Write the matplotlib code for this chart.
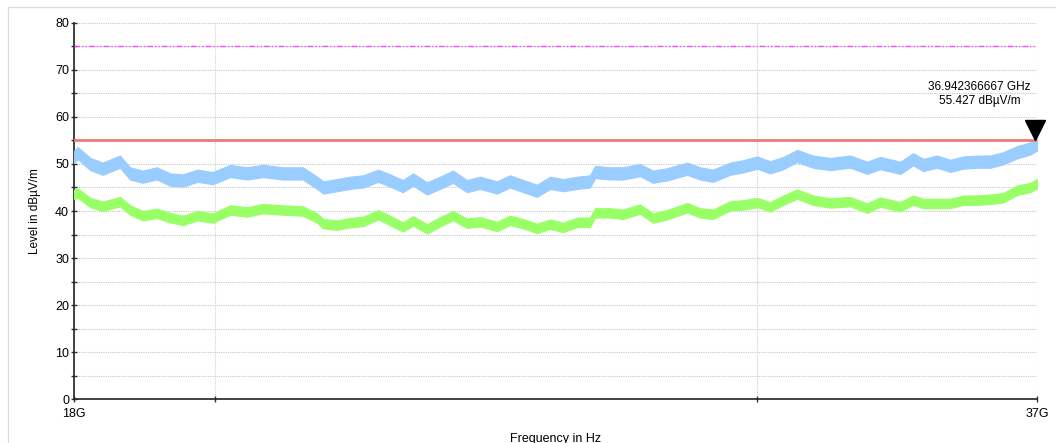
import matplotlib
matplotlib.use("Agg")
import matplotlib.pyplot as plt
from matplotlib.ticker import MultipleLocator, NullLocator
from matplotlib.patches import Rectangle
from matplotlib.transforms import offset_copy
import numpy as np

plt.rcParams['font.family'] = ['Liberation Sans', 'DejaVu Sans']

# frequenze (GHz) dei punti
freq_ghz = [18.00, 18.05, 18.22, 18.39, 18.63, 18.77, 18.95, 19.15, 19.34, 19.53,
            19.74, 19.97, 20.23, 20.49, 20.73, 21.05, 21.36, 21.59, 21.69, 21.91,
            22.13, 22.35, 22.60, 22.80, 23.02, 23.20, 23.44, 23.67, 23.90, 24.15,
            24.39, 24.70, 24.94, 25.19, 25.45, 25.70, 25.95, 26.23, 26.48, 26.58,
            26.88, 27.14, 27.49, 27.76, 28.05, 28.48, 28.75, 29.03, 29.41, 29.69,
            30.01, 30.30, 30.60, 30.92, 31.29, 31.69, 32.17, 32.58, 32.90, 33.40,
            33.72, 33.98, 34.33, 34.67, 35.01, 35.38, 35.72, 36.07, 36.45, 36.81,
            37.00]

# traccia blu (livello medio in dBuV/m)
blue_level = [51.5, 52.3, 50.0, 49.0, 50.5, 48.0, 47.3, 48.0, 46.7, 46.5,
              47.5, 47.0, 48.5, 48.0, 48.5, 48.0, 48.0, 46.0, 45.0, 45.5,
              46.0, 46.3, 47.5, 46.5, 45.3, 46.7, 44.8, 46.0, 47.3, 45.3,
              46.0, 45.0, 46.3, 45.3, 44.3, 46.0, 45.5, 46.0, 46.3, 48.3,
              48.0, 48.0, 48.7, 47.3, 47.8, 49.0, 48.0, 47.5, 49.0, 49.5,
              50.3, 49.3, 50.2, 51.7, 50.5, 50.0, 50.5, 49.2, 50.2, 49.2,
              51.0, 49.8, 50.5, 49.6, 50.3, 50.5, 50.5, 51.2, 52.5, 53.3,
              54.2]

# traccia verde
green_level = [43.5, 43.8, 41.8, 41.0, 42.0, 40.2, 39.0, 39.5, 38.6, 38.0,
               39.0, 38.5, 40.2, 39.8, 40.5, 40.2, 40.0, 38.5, 37.3, 37.0,
               37.5, 37.8, 39.2, 38.0, 36.6, 37.9, 36.2, 37.7, 39.0, 37.4,
               37.7, 36.7, 38.0, 37.3, 36.3, 37.2, 36.5, 37.6, 37.6, 39.6,
               39.6, 39.3, 40.4, 38.5, 39.2, 40.7, 39.6, 39.3, 41.1, 41.3,
               41.8, 40.9, 42.3, 43.6, 42.3, 41.7, 42.0, 40.6, 41.9, 40.9,
               42.3, 41.6, 41.6, 41.6, 42.3, 42.3, 42.5, 42.8, 44.4, 45.0,
               45.8]

limit_red = 55
limit_magenta = 75
marker_freq = 36.942366667e9
marker_level = 55.427

freq = np.array(freq_ghz) * 1e9
blue = np.array(blue_level)
green = np.array(green_level)

fig = plt.figure(figsize=(10.56, 4.43), dpi=100)
ax = fig.add_axes([0.0701, 0.0993, 0.912, 0.8488])

# cornice grigia della figura
fig.patches.append(Rectangle((8 / 1056, -0.01), 1.1, 1 - 7 / 443 + 0.01,
                             transform=fig.transFigure, fill=False,
                             edgecolor='#dcdcdc', linewidth=1))

ax.fill_between(freq, blue - 1.3, blue + 1.3, color='#99ccff', linewidth=0.8,
                edgecolor='#99ccff', zorder=3)
ax.fill_between(freq, green - 1.0, green + 1.0, color='#99ff66', linewidth=0.8,
                edgecolor='#99ff66', zorder=3)

ax.axhline(limit_red, color='#f07878', linewidth=2, zorder=4)
ax.axhline(limit_magenta, color='#ff44ff', linewidth=1, zorder=4,
           dashes=(4, 1.5, 1, 1.5, 1, 1.5))

# marker
tr = offset_copy(ax.transData, fig=fig, x=0, y=6.0, units='points')
ax.plot([marker_freq], [marker_level], marker='v', color='black',
        markersize=14, transform=tr, clip_on=False, zorder=6)
ax.annotate('36.942366667 GHz\n55.427 dBµV/m', xy=(marker_freq, marker_level),
            xytext=(-40, 23), textcoords='offset points', ha='center',
            va='bottom', fontsize=8.5, linespacing=1.2)

ax.set_xscale('log')
ax.set_xlim(18e9, 37e9)
ax.set_ylim(0, 80)

ax.set_xticks([18e9, 20e9, 30e9, 37e9])
ax.set_xticklabels(['18G', '', '', '37G'])
ax.xaxis.set_minor_locator(NullLocator())
ax.yaxis.set_major_locator(MultipleLocator(10))
ax.yaxis.set_minor_locator(MultipleLocator(5))

ax.tick_params(axis='both', which='both', direction='inout', length=5,
               width=1, labelsize=9, color='#333333')
ax.tick_params(axis='y', pad=1)
ax.tick_params(axis='x', pad=4)

ax.grid(axis='y', which='both', linestyle=(0, (1, 1)), color='#c8c8c8',
        linewidth=0.8)
ax.grid(axis='x', which='major', linestyle=(0, (1, 1)), color='#d0d0d0',
        linewidth=0.8)

for s in ['top', 'right']:
    ax.spines[s].set_visible(False)
ax.spines['left'].set_color('#222222')
ax.spines['bottom'].set_color('#222222')
ax.spines['left'].set_linewidth(1.2)
ax.spines['bottom'].set_linewidth(1.2)

ax.set_ylabel('Level in dBµV/m', fontsize=8.5, labelpad=10)
ax.set_xlabel('Frequency in Hz', fontsize=9, labelpad=9)

fig.savefig('out.png', dpi=100)
